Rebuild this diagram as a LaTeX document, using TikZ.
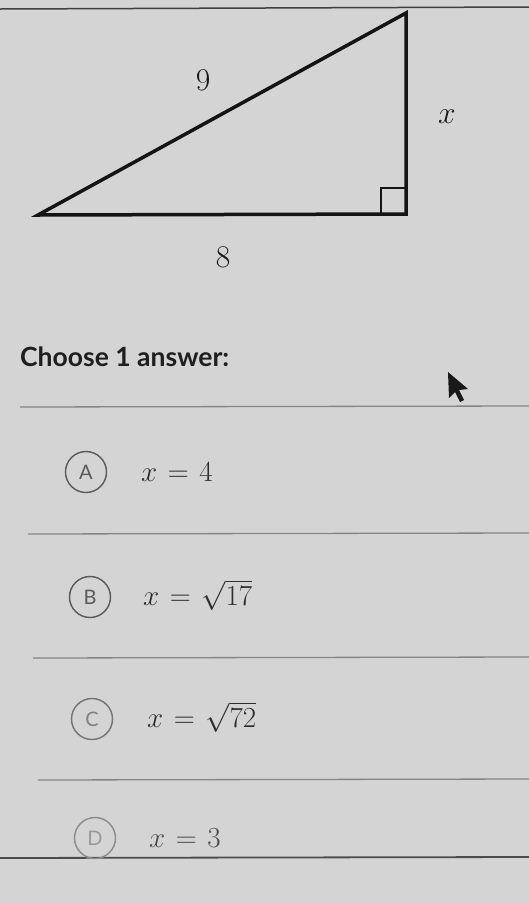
\documentclass[tikz,border=0pt]{standalone}
\usepackage{fontspec}
\usepackage{graphicx}
\newfontfamily\latob{Lato Bold}
\newfontfamily\latof{Lato}
\newcommand{\optmath}[1]{\scalebox{1.17}{$\thickmuskip=6.5mu #1$}}
\newcommand{\labmath}[1]{\scalebox{1.27}{$#1$}}
\begin{document}
\begin{tikzpicture}[x=1pt,y=-1pt,
  sepline/.style={draw=black!48,line width=1.3pt},
  tri/.style={draw=black!92,line width=3.5pt,line join=miter},
  lab/.style={font=\fontsize{24}{28}\selectfont,text=black!90,inner sep=0pt},
  opt/.style={font=\fontsize{24}{28}\selectfont,text=black!82,inner sep=0pt,anchor=west},
  letter/.style={circle,draw=black!65,line width=1.4pt,minimum size=41pt,inner sep=0pt,
    font=\latof\fontsize{20}{22}\selectfont,text=black!65}]
\useasboundingbox (0,0) rectangle (529,903);
\fill[black!17] (0,0) rectangle (529,903);
% top rule
\coordinate (tl) at (0,9); \coordinate (tr) at (529,7);
\draw[draw=black!75,line width=1.5pt] (tl) -- (tr);
% triangle
\coordinate (P) at (38,215);
\coordinate (Q) at (406,214);
\coordinate (R) at (406,13);
\draw[tri] (P) -- (Q) -- (R) -- cycle;
\coordinate (s1) at (381,214); \coordinate (s2) at (381,188); \coordinate (s3) at (406,188);
\draw[draw=black!92,line width=2.4pt] (s1) -- (s2) -- (s3);
\node[lab] (nine) at (203,80) {\labmath{9}};
\node[lab] (xlab) at (447,117) {\labmath{x}};
\node[lab] (eight) at (223,257) {\labmath{8}};
% heading
\node[anchor=west,inner sep=0pt,font=\latob\fontsize{26.5}{30}\selectfont,text=black!88] (head) at (20,357) {Choose 1 answer:};
% cursor
\coordinate (ct) at (448,372);
\fill[black!90] (ct) -- ++(1,26) -- ++(6,-6) -- ++(5,10) -- ++(4,-2) -- ++(-5,-10) -- ++(9,-1) -- cycle;
% separators
\coordinate (l1a) at (20,407); \coordinate (l1b) at (529,406);
\coordinate (l2a) at (28,534); \coordinate (l2b) at (529,533);
\coordinate (l3a) at (33,658); \coordinate (l3b) at (529,657);
\coordinate (l4a) at (38,780); \coordinate (l4b) at (529,779);
\draw[sepline] (l1a) -- (l1b);
\draw[sepline] (l2a) -- (l2b);
\draw[sepline] (l3a) -- (l3b);
\draw[sepline] (l4a) -- (l4b);
\coordinate (bl) at (0,858); \coordinate (br) at (529,857);
\draw[draw=black!70,line width=1.8pt] (bl) -- (br);
% options
\node[letter] (A) at (86,472) {A};
\node[opt] (oA) at (141,472) {\optmath{x=4}};
\node[letter] (B) at (90,597) {B};
\node[opt] (oB) at (143,595) {\optmath{x=\sqrt{17}}};
\node[letter,draw=black!55,text=black!50] (C) at (92,719) {C};
\node[opt] (oC) at (147,717) {\optmath{x=\sqrt{72}}};
\node[letter,draw=black!45,text=black!40] (D) at (95,838) {D};
\node[opt,text=black!70] (oD) at (149,838) {\optmath{x=3}};
\end{tikzpicture}
\end{document}
